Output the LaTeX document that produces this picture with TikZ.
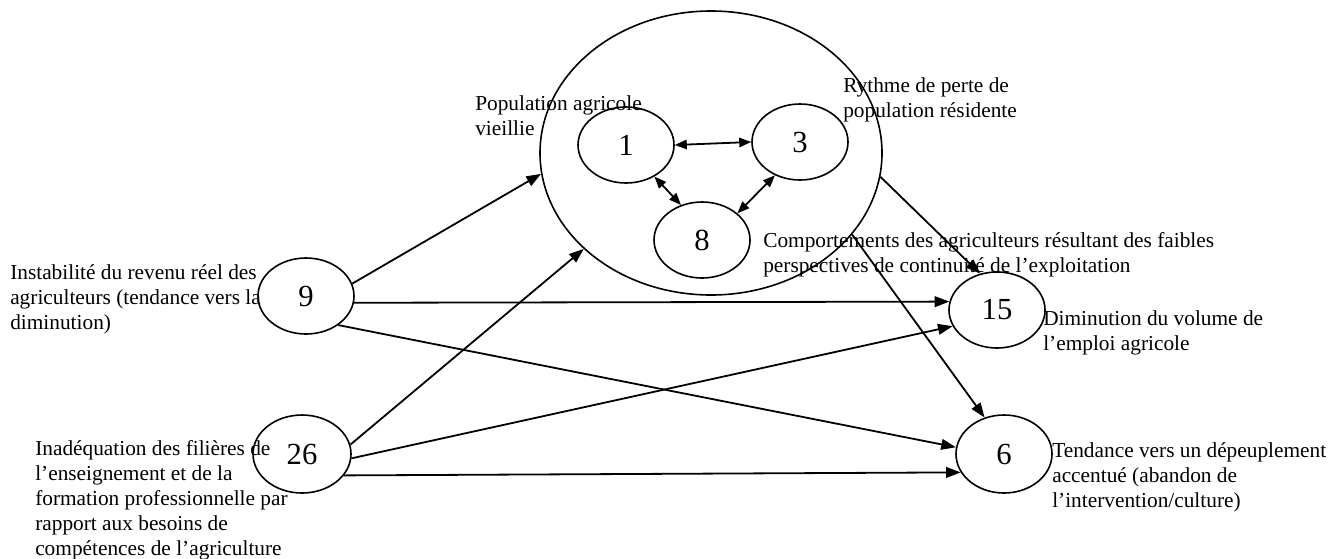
\documentclass[tikz,border=0pt]{standalone}
\usepackage{fontspec}
\setmainfont{Liberation Serif}
\usetikzlibrary{shapes.geometric,arrows.meta}
\tikzset{
  num/.style={draw, ellipse, line width=1.2pt, inner sep=0pt, minimum width=72pt, minimum height=57pt, font=\fontsize{23}{23}\selectfont},
  big/.style={draw, ellipse, line width=1.2pt, inner sep=0pt, minimum width=256.5pt, minimum height=213pt},
  lab/.style={anchor=base west, inner sep=0pt, align=left, font=\fontsize{16}{18.75}\selectfont},
  arr/.style={line width=1.35pt, -{Triangle[length=11pt,width=8pt]}},
  darr/.style={line width=1.35pt, {Triangle[length=9pt,width=7pt]}-{Triangle[length=9pt,width=7pt]}}
}
\begin{document}
\begin{tikzpicture}[x=0.75pt,y=-0.75pt]
\useasboundingbox (0,0) rectangle (1330,558);
\node[big] (big) at (711,153) {};
\node[num] (one) at (626,145) {1};
\node[num] (three) at (800,142) {3};
\node[num] (eight) at (702,240) {8};
\node[num] (nine) at (306,296) {9};
\node[num, minimum width=73.5pt, minimum height=58.5pt] (tsix) at (302,454) {26};
\node[num] (fifteen) at (997,310) {15};
\node[num, minimum height=58.5pt] (six) at (1004,454) {6};

\node[lab] (lpop) at (475,135) {Population agricole\\vieillie};
\node[lab] (lryt) at (843,117) {Rythme de perte de\\population résidente};
\node[lab] (lcomp) at (763,272) {Comportements des agriculteurs résultant des faibles\\perspectives de continuité de l’exploitation};
\node[lab] (ldim) at (1043,350) {Diminution du volume de\\l’emploi agricole};
\node[lab] (ltend) at (1052,507) {Tendance vers un dépeuplement\\accentué (abandon de\\l’intervention/culture)};
\node[lab] (linst) at (10,329) {Instabilité du revenu réel des\\agriculteurs (tendance vers la\\diminution)};
\node[lab] (linad) at (35,555) {Inadéquation des filières de\\l’enseignement et de la\\formation professionnelle par\\rapport aux besoins de\\compétences de l’agriculture};

\draw[darr] (one.0) -- (three.180);
\draw[darr] (one.-48) -- (eight.121);
\draw[darr] (three.233) -- (eight.37);

\draw[arr] (nine.15) -- (big.187);
\draw[arr] (tsix.11) -- (big.217);
\draw[arr] (nine.-8) -- (fifteen.170);
\draw[arr] (nine.-42) -- (six.172);
\draw[arr] (tsix.-5) -- (fifteen.200);
\draw[arr] (tsix.-27) -- (six.203);
\draw[arr] (big.-8) -- (fifteen.115);
\draw[arr] (big.-30) -- (six.118);
\end{tikzpicture}
\end{document}
